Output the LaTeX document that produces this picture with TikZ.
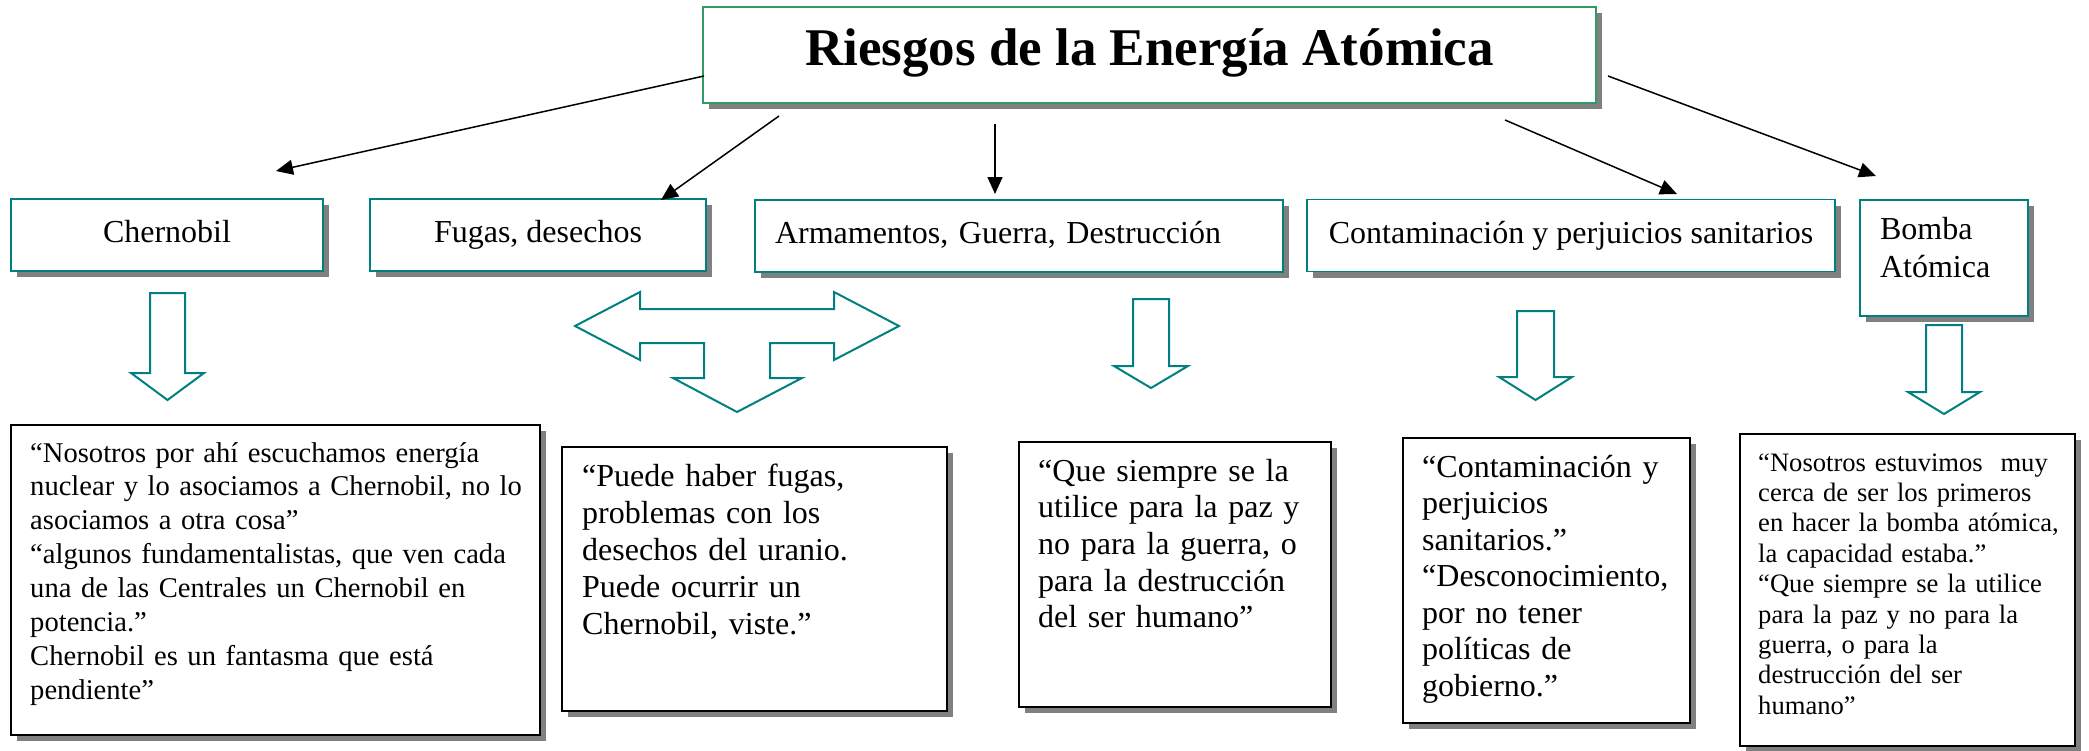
\documentclass[tikz,border=0pt]{standalone}
\usepackage{fontspec}
\setmainfont{Liberation Serif}
\usetikzlibrary{arrows.meta,shadows}
\definecolor{boxteal}{RGB}{0,128,128}
\definecolor{titlegreen}{RGB}{51,153,102}
\definecolor{shadowgray}{RGB}{128,128,128}
\tikzset{boxshadow/.style={drop shadow={shadow xshift=6pt, shadow yshift=-6pt, fill=shadowgray, opacity=1}}}

\begin{document}
\begin{tikzpicture}[x=1pt,y=-1pt]
    \useasboundingbox (0,0) rectangle (2089,750);
    %title on top, the five themes below it
    \node [draw=titlegreen, line width=1.5pt, fill=white, boxshadow, minimum width=893, minimum height=96, inner sep=0pt,
           text height=36pt, text depth=16pt, font=\bfseries\fontsize{53}{60}\selectfont] (riesgos) at (1149.5,55) {Riesgos de la Energía Atómica};

    \begin{scope}[every node/.style={draw=boxteal, line width=1.5pt, fill=white, boxshadow, minimum height=72,
                  inner xsep=20pt, inner ysep=0pt, text height=22pt, text depth=7pt, font=\fontsize{32}{38}\selectfont}]
        \node [minimum width=312] (chernobil) at (167,235) {Chernobil};
        \node [minimum width=336] (fugas) at (538,235) {Fugas, desechos};
        \node [minimum width=528, text width=488, align=left] (armamentos) at (1019,236) {Armamentos, Guerra, Destrucción};
        \node [minimum width=528] (contaminacion) at (1571,235.5) {Contaminación y perjuicios sanitarios};
        \node [minimum width=168, minimum height=116, text width=128, align=left, text depth=60pt] (bomba) at (1944,258) {Bomba\\Atómica};
    \end{scope}

    \begin{scope}[>={Triangle[length=17pt,width=15pt]},
                every edge/.style={draw=black, line width=1.5pt}]
        \coordinate (s1) at (704,76);   \coordinate (e1) at (276,171);
        \coordinate (s2) at (779,116);  \coordinate (e2) at (661,200);
        \coordinate (s3) at (995,124);  \coordinate (e3) at (995,194);
        \coordinate (s4) at (1505,120); \coordinate (e4) at (1677,194);
        \coordinate (s5) at (1608,76);  \coordinate (e5) at (1876,176);
        \path [->] (s1) edge (e1);
        \path [->] (s2) edge (e2);
        \path [->] (s3) edge (e3);
        \path [->] (s4) edge (e4);
        \path [->] (s5) edge (e5);
    \end{scope}

    %block arrows
    \begin{scope}[draw=boxteal, fill=white, line width=2pt, line join=miter]
        \filldraw (150,293) -- (185,293) -- (185,373) -- (204,373) -- (167.5,400) -- (131,373) -- (150,373) -- cycle;
        \filldraw (575,326) -- (640,292) -- (640,309) -- (834,309) -- (834,292) -- (899,326) -- (834,360) -- (834,343)
                  -- (770,343) -- (770,378) -- (802,378) -- (737,412) -- (673,378) -- (704,378) -- (704,343) -- (640,343)
                  -- (640,360) -- cycle;
        \filldraw (1133,299) -- (1169,299) -- (1169,366) -- (1188,366) -- (1151,388) -- (1114,366) -- (1133,366) -- cycle;
        \filldraw (1517,311) -- (1554,311) -- (1554,377) -- (1572,377) -- (1535.5,400) -- (1499,377) -- (1517,377) -- cycle;
        \filldraw (1926,325) -- (1962,325) -- (1962,392) -- (1980,392) -- (1944,414) -- (1908,392) -- (1926,392) -- cycle;
    \end{scope}

    %quotes
    \begin{scope}[every node/.style={draw=black, line width=2pt, fill=white, boxshadow, inner sep=0pt}]
        \node [minimum width=529, minimum height=310] (nosotros) at (275.5,580) {};
        \node [minimum width=385, minimum height=264] (puede) at (754.5,579) {};
        \node [minimum width=312, minimum height=265] (paz) at (1175,574.5) {};
        \node [minimum width=287, minimum height=285] (desconocimiento) at (1546.5,580.5) {};
        \node [minimum width=335, minimum height=312] (estuvimos) at (1907.5,590) {};
    \end{scope}

    \begin{scope}[every node/.style={anchor=base west, align=left, inner sep=0pt}]
        \node [text width=520, font=\fontsize{28.6}{33.9}\selectfont] (nosotrostext) at ([shift={(20,38)}]nosotros.north west)
            {“Nosotros por ahí escuchamos energía\\nuclear y lo asociamos a Chernobil, no lo\\asociamos a otra cosa”\\“algunos fundamentalistas, que ven cada\\una de las Centrales un Chernobil en\\potencia.”\\Chernobil es un fantasma que está\\pendiente”};
        \node [text width=350, font=\fontsize{32}{37}\selectfont] (puedetext) at ([shift={(21,40)}]puede.north west)
            {“Puede haber fugas,\\problemas con los\\desechos del uranio.\\Puede ocurrir un\\Chernobil, viste.”};
        \node [text width=285, font=\fontsize{32}{36.7}\selectfont] (paztext) at ([shift={(20,40)}]paz.north west)
            {“Que siempre se la\\utilice para la paz y\\no para la guerra, o\\para la destrucción\\del ser humano”};
        \node [text width=262, font=\fontsize{32}{36.5}\selectfont] (desconocimientotext) at ([shift={(20,40)}]desconocimiento.north west)
            {“Contaminación y\\perjuicios\\sanitarios.”\\“Desconocimiento,\\por no tener\\políticas de\\gobierno.”};
        \node [text width=312, font=\fontsize{26.6}{30.4}\selectfont] (estuvimostext) at ([shift={(19,38)}]estuvimos.north west)
            {“Nosotros estuvimos~ muy\\cerca de ser los primeros\\en hacer la bomba atómica,\\la capacidad estaba.”\\“Que siempre se la utilice\\para la paz y no para la\\guerra, o para la\\destrucción del ser\\humano”};
    \end{scope}
\end{tikzpicture}
\end{document}
